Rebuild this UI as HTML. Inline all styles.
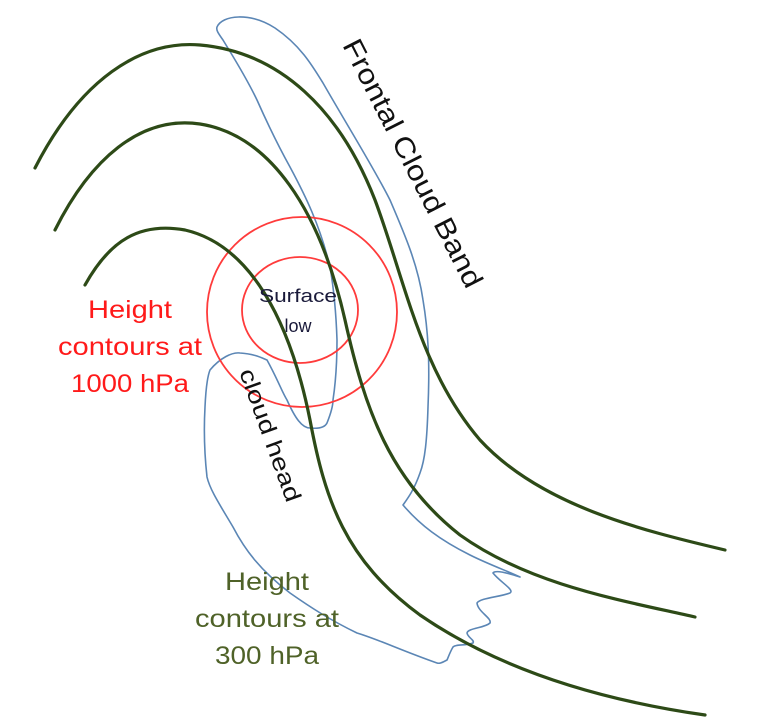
<!DOCTYPE html>
<html><head><style>
html,body{margin:0;padding:0;background:#fff;}
svg{display:block;}
text{font-family:"Liberation Sans",sans-serif;}
</style></head><body>
<svg width="769" height="720" viewBox="0 0 769 720" xmlns="http://www.w3.org/2000/svg">
<path fill="none" stroke="#5b86b5" stroke-width="1.6" stroke-linejoin="round"
d="M217,27 C222,15 250,12 275,28 C300,45 312,65 323,83 C350,130 375,170 390,200 C405,235 418,265 423,300 C428,330 430,360 428,407 C427,440 425,460 420,473 C414,490 408,498 403,505 C420,525 440,540 470,555 C490,565 510,572 520,577 C505,572 495,570 493,573 C500,582 515,590 510,593 C500,597 480,598 477,603 C478,612 492,618 490,623 C485,628 468,628 467,633 C468,638 475,640 473,643 C465,646 456,644 453,647 C450,652 448,658 447,660 C443,662 440,664 437,663 C400,650 380,640 357,633 C330,620 310,607 290,593 C260,570 245,550 233,527 C220,505 210,490 207,477 C204,450 204,425 205,407 C206,385 208,375 210,370 C220,358 232,352 240,353 C255,354 262,358 267,360 C278,380 282,392 287,400 C295,418 302,428 310,428 C320,429 325,427 327,423 C331,413 333,405 333,400 C336,380 337,360 337,340 C336,310 334,290 330,267 C320,225 305,195 290,167 C275,140 265,118 257,100 C245,75 232,55 223,40 C218,33 216,30 217,27 Z"/>
<circle cx="302" cy="312" r="95" fill="none" stroke="#ff3b3b" stroke-width="1.8"/>
<ellipse cx="300" cy="310" rx="58" ry="53" fill="none" stroke="#ff3b3b" stroke-width="1.8"/>
<g fill="none" stroke="#2d4a17" stroke-width="3.2" stroke-linecap="round">
<path d="M35,168 C80,80 140,40 200,45 C280,52 340,110 375,200 C405,280 420,370 480,440 C540,505 640,530 725,550"/>
<path d="M55,230 C90,160 140,115 200,124 C270,135 320,210 345,320 C365,410 390,480 460,535 C530,585 620,600 695,617"/>
<path d="M85,285 C110,240 140,222 185,230 C250,245 290,320 310,420 C325,500 345,560 420,615 C500,670 600,700 705,715"/>
</g>
<text x="0" y="0" font-size="28" fill="#111" textLength="275" lengthAdjust="spacingAndGlyphs" transform="translate(342,45) rotate(63)">Frontal Cloud Band</text>
<text x="0" y="0" font-size="23" fill="#111" textLength="140" lengthAdjust="spacingAndGlyphs" transform="translate(239,372) rotate(70)">cloud  head</text>
<text x="298" y="302" font-size="18" fill="#1a1a3a" text-anchor="middle" textLength="78" lengthAdjust="spacingAndGlyphs">Surface</text>
<text x="298" y="332" font-size="18" fill="#1a1a3a" text-anchor="middle">low</text>
<g font-size="25" fill="#ff1a1a" text-anchor="middle">
<text x="130" y="318" textLength="84" lengthAdjust="spacingAndGlyphs">Height</text>
<text x="130" y="355" textLength="144" lengthAdjust="spacingAndGlyphs">contours at</text>
<text x="130" y="392" textLength="118" lengthAdjust="spacingAndGlyphs">1000 hPa</text>
</g>
<g font-size="25" fill="#4f6228" text-anchor="middle">
<text x="267" y="590" textLength="84" lengthAdjust="spacingAndGlyphs">Height</text>
<text x="267" y="627" textLength="144" lengthAdjust="spacingAndGlyphs">contours at</text>
<text x="267" y="664" textLength="104" lengthAdjust="spacingAndGlyphs">300 hPa</text>
</g>
</svg>
</body></html>
